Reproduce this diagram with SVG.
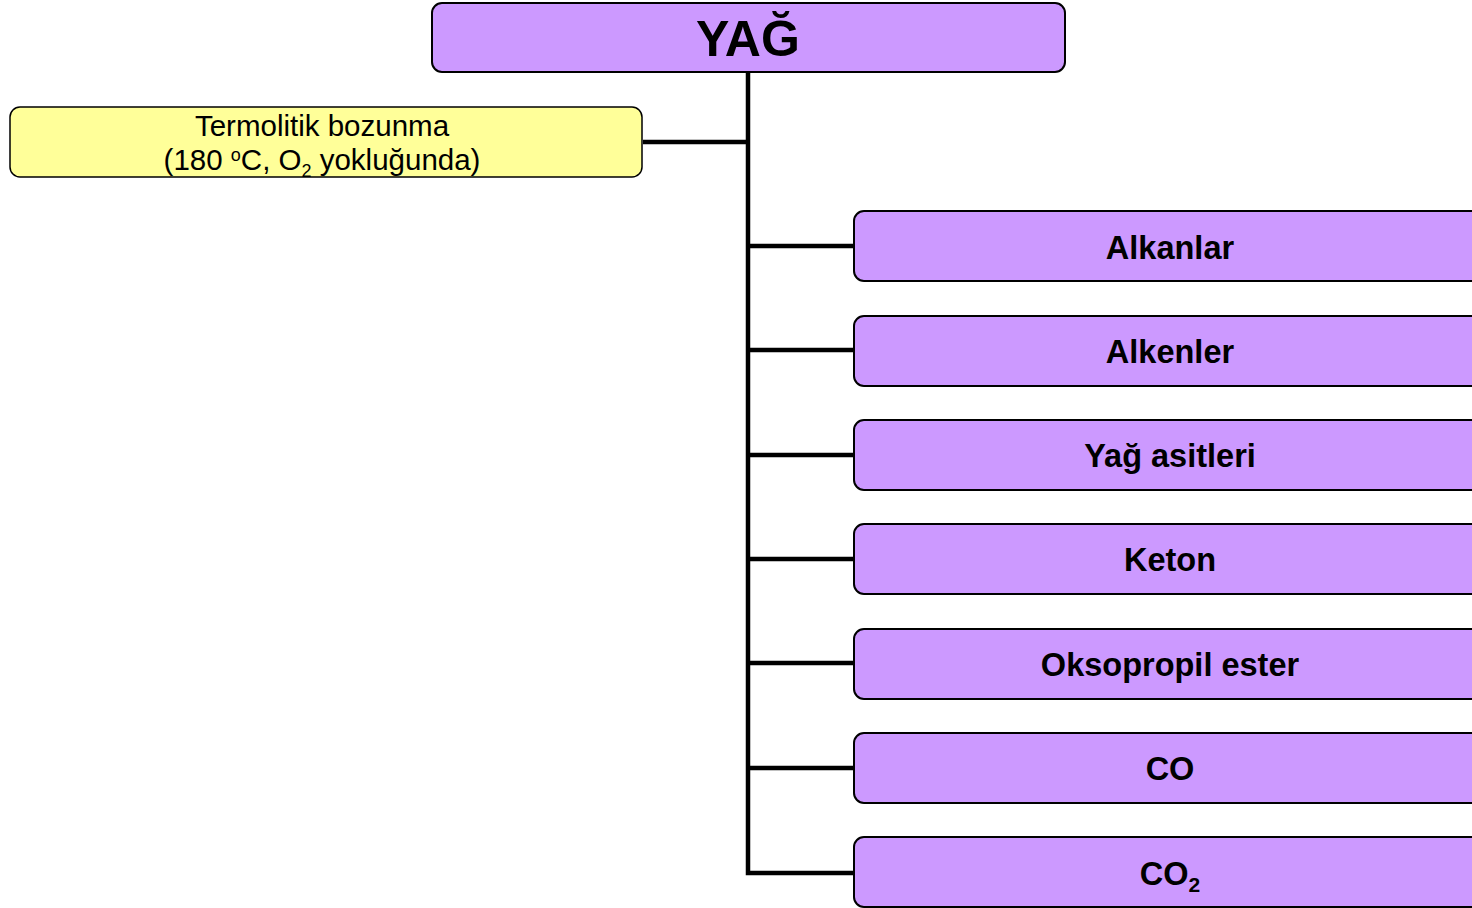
<svg xmlns="http://www.w3.org/2000/svg" width="1472" height="908" viewBox="0 0 1472 908">
  <style>
    .purple { fill: #cc99ff; stroke: #000; stroke-width: 2; }
    .yellow { fill: #ffff99; stroke: #000; stroke-width: 1.5; }
    .lbl { font-family: "Liberation Sans", Arial, sans-serif; font-weight: bold; font-size: 32.5px; text-anchor: middle; fill: #000; }
    .title { font-family: "Liberation Sans", Arial, sans-serif; font-weight: bold; font-size: 50px; text-anchor: middle; fill: #000; }
    .note { font-family: "Liberation Sans", Arial, sans-serif; font-size: 29.5px; text-anchor: middle; fill: #000; }
    .wire { stroke: #000; stroke-width: 4.5; fill: none; }
  </style>

  <!-- connectors -->
  <g id="connectors">
    <path class="wire" d="M748 73 V873 H854"/>
    <path class="wire" d="M643 142 H748"/>
    <path class="wire" d="M748 246 H854"/>
    <path class="wire" d="M748 350 H854"/>
    <path class="wire" d="M748 455 H854"/>
    <path class="wire" d="M748 559 H854"/>
    <path class="wire" d="M748 663 H854"/>
    <path class="wire" d="M748 768 H854"/>
  </g>

  <g id="yag">
    <rect class="purple" x="432" y="3" width="633" height="69" rx="10"/>
    <text class="title" x="748" y="56">YAĞ</text>
  </g>

  <g id="termolitik">
    <rect class="yellow" x="10" y="107" width="632" height="70" rx="10"/>
    <text class="note" x="322" y="136">Termolitik bozunma</text>
    <text class="note" x="322" y="170">(180 <tspan font-size="18" dy="-9">o</tspan><tspan dy="9">C, O</tspan><tspan font-size="18" dy="7">2</tspan><tspan dy="-7"> yokluğunda)</tspan></text>
  </g>

  <g id="alkanlar">
    <rect class="purple" x="854" y="211" width="640" height="70" rx="10"/>
    <text class="lbl" x="1170" y="259">Alkanlar</text>
  </g>
  <g id="alkenler">
    <rect class="purple" x="854" y="316" width="640" height="70" rx="10"/>
    <text class="lbl" x="1170" y="363">Alkenler</text>
  </g>
  <g id="yag-asitleri">
    <rect class="purple" x="854" y="420" width="640" height="70" rx="10"/>
    <text class="lbl" x="1170" y="467">Yağ asitleri</text>
  </g>
  <g id="keton">
    <rect class="purple" x="854" y="524" width="640" height="70" rx="10"/>
    <text class="lbl" x="1170" y="571">Keton</text>
  </g>
  <g id="oksopropil-ester">
    <rect class="purple" x="854" y="629" width="640" height="70" rx="10"/>
    <text class="lbl" x="1170" y="676">Oksopropil ester</text>
  </g>
  <g id="co">
    <rect class="purple" x="854" y="733" width="640" height="70" rx="10"/>
    <text class="lbl" x="1170" y="780">CO</text>
  </g>
  <g id="co2">
    <rect class="purple" x="854" y="837" width="640" height="70" rx="10"/>
    <text class="lbl" x="1170" y="885">CO<tspan font-size="21" dy="7">2</tspan></text>
  </g>
</svg>
